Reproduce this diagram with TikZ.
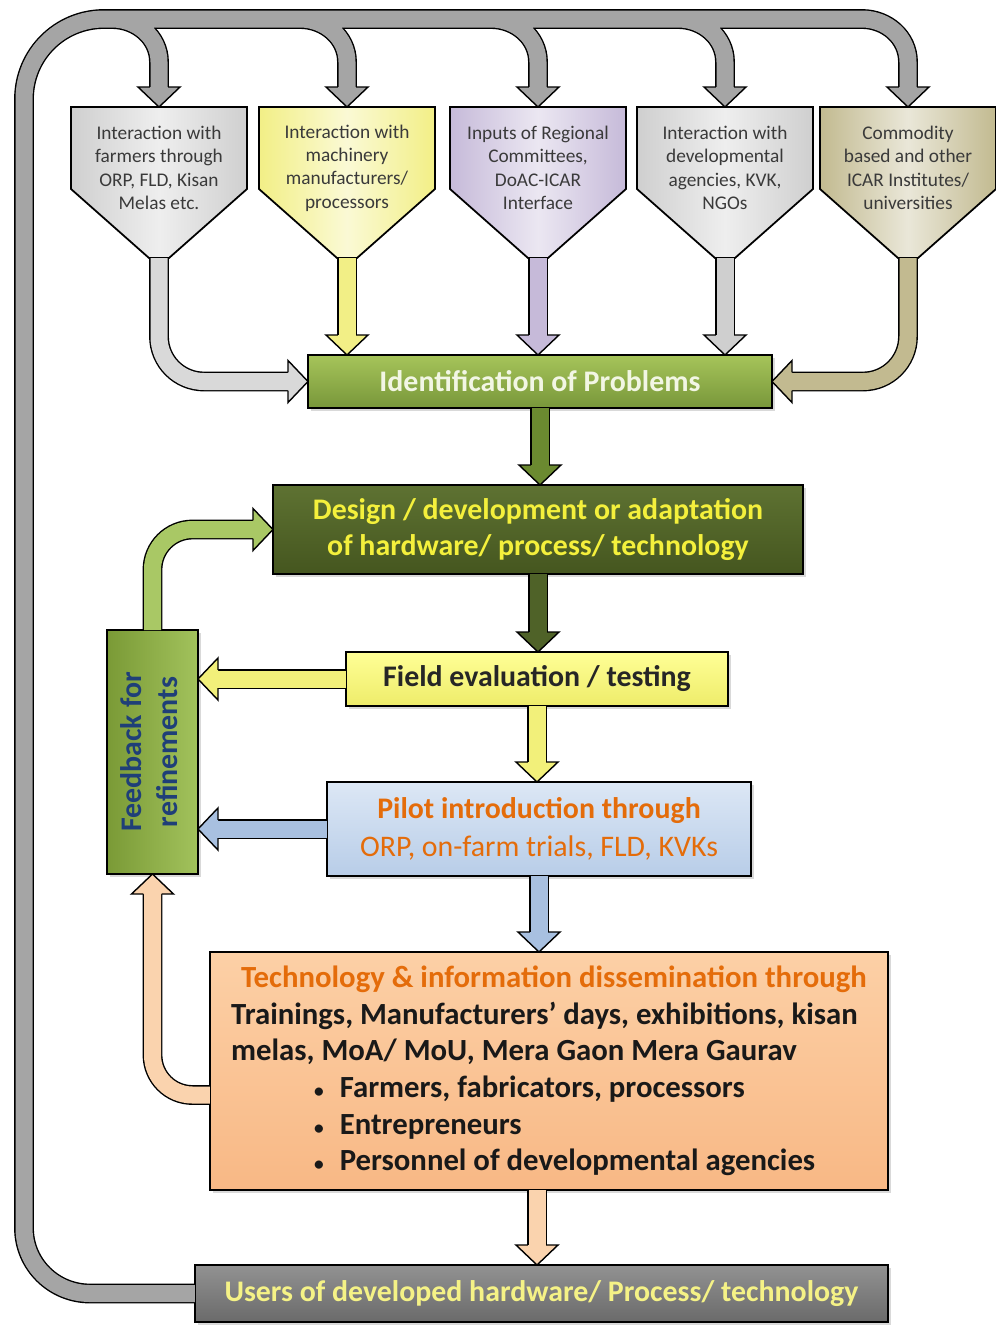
\documentclass[tikz,border=0pt]{standalone}
\usepackage{fontspec}
\setmainfont{Carlito}
\usetikzlibrary{calc}
\usetikzlibrary{shadows}
\definecolor{pipegrey}{HTML}{A5A5A5}
\definecolor{fgrey}{HTML}{CFCFCF}
\definecolor{fyellow}{HTML}{F2EF86}
\definecolor{flav}{HTML}{C6BAD9}
\definecolor{fkhaki}{HTML}{C2BA90}
\definecolor{ftext}{HTML}{3A3A3A}
\definecolor{identtop}{HTML}{A6C45A}
\definecolor{identbot}{HTML}{78973A}
\definecolor{identtxt}{HTML}{F2F6E4}
\definecolor{designtop}{HTML}{5E7232}
\definecolor{designbot}{HTML}{45561F}
\definecolor{designtxt}{HTML}{F4F03C}
\definecolor{fieldtop}{HTML}{FFFF96}
\definecolor{fieldbot}{HTML}{EEEC6A}
\definecolor{pilottop}{HTML}{DCE7F5}
\definecolor{pilotbot}{HTML}{B8CDE8}
\definecolor{orangetxt}{HTML}{E46C0A}
\definecolor{techtop}{HTML}{FCD0A6}
\definecolor{techbot}{HTML}{F8B885}
\definecolor{userstop}{HTML}{929292}
\definecolor{usersbot}{HTML}{6A6A6A}
\definecolor{userstxt}{HTML}{F5F286}
\definecolor{fbtop}{HTML}{A2C25C}
\definecolor{fbbot}{HTML}{7A9A36}
\definecolor{fbtxt}{HTML}{1F3F78}
\definecolor{agreen}{HTML}{6B8A30}
\definecolor{adarkgreen}{HTML}{4F6228}
\definecolor{agreenl}{HTML}{A9C865}
\definecolor{ayellow}{HTML}{F2F07A}
\definecolor{ablue}{HTML}{A8C0E0}
\definecolor{apeach}{HTML}{FAD3AE}
\tikzset{
  box/.style = {draw, line width=1pt, inner sep=0, outer sep=0, align=center,
    font=\bfseries\fontsize{17}{21}\selectfont,
    drop shadow={opacity=0.3, shadow xshift=0.6mm, shadow yshift=-0.6mm}},
  funnel/.style = {draw, line width=1pt},
  funneltext/.style = {align=center, inner sep=0, text=ftext, font=\fontsize{11}{13.3}\selectfont},
  pipe/.style = {draw=black, line width=0.8pt, double=#1, double distance=3.4mm},
  pipe/.default = pipegrey,
  headline/.style = {draw=black, line width=0.8pt},
}
% block arrow heads, tip at #1
\newcommand{\headdown}[2]{\filldraw[headline, fill=#2] (#1) ++(-9.2,-20) -- ++(-11.8,0) -- (#1) -- ++(21,-20) -- ++(-11.8,0);}
\newcommand{\headup}[2]{\filldraw[headline, fill=#2] (#1) ++(-9.2,20) -- ++(-11.8,0) -- (#1) -- ++(21,20) -- ++(-11.8,0);}
\newcommand{\headleft}[2]{\filldraw[headline, fill=#2] (#1) ++(20,-9.2) -- ++(0,-11.8) -- (#1) -- ++(20,21) -- ++(0,-11.8);}
\newcommand{\headright}[2]{\filldraw[headline, fill=#2] (#1) ++(-20,-9.2) -- ++(0,-11.8) -- (#1) -- ++(-20,21) -- ++(0,-11.8);}
\newcommand{\bull}{\hspace*{16.6mm}{\fontsize{11}{11}\selectfont\textbullet}\hspace{3.2mm}}

\begin{document}
\begin{tikzpicture}[x=0.2mm, y=-0.2mm]
\useasboundingbox (0,0) rectangle (996,1326);

% main boxes
\node[box, top color=identtop, bottom color=identbot, text=identtxt,
  minimum width=92.8mm, minimum height=10.6mm] (ident) at (540,381.5) {Identification of Problems};
\node[box, top color=designtop, bottom color=designbot, text=designtxt,
  minimum width=106mm, minimum height=17.8mm] (design) at (538,529.5)
  {Design / development or adaptation\\of hardware/ process/ technology};
\node[box, top color=fieldtop, bottom color=fieldbot, text=black!85,
  minimum width=76.4mm, minimum height=10.8mm] (field) at (537,679) {Field evaluation / testing};
\node[box, top color=pilottop, bottom color=pilotbot, text=orangetxt,
  font=\fontsize{17}{21.5}\selectfont,
  minimum width=84.8mm, minimum height=18.8mm] (pilot) at (539,829)
  {\textbf{Pilot introduction through}\\ORP, on-farm trials, FLD, KVKs};
\node[box, top color=techtop, bottom color=techbot, text=black!90, align=left,
  font=\bfseries\fontsize{17.5}{20.8}\selectfont,
  minimum width=135.6mm, minimum height=47.6mm] (tech) at (549,1071)
  {\hspace*{2mm}\textcolor{orangetxt}{Technology \& information dissemination through}\\
   Trainings, Manufacturers’ days, exhibitions, kisan\\
   melas, MoA/ MoU, Mera Gaon Mera Gaurav\\
   \bull Farmers, fabricators, processors\\
   \bull Entrepreneurs\\
   \bull Personnel of developmental agencies};
\node[box, top color=userstop, bottom color=usersbot, text=userstxt,
  minimum width=138.6mm, minimum height=11.4mm] (users) at (541.5,1293.5)
  {Users of developed hardware/ Process/ technology};
\node[box, left color=fbbot, right color=fbtop, text=fbtxt,
  font=\bfseries\fontsize{17}{20}\selectfont,
  minimum width=18.2mm, minimum height=48.8mm] (fb) at (152.5,752)
  {\rotatebox{90}{\begin{tabular}{@{}c@{}}Feedback for\\refinements\end{tabular}}};

% input funnels
\foreach \cx/\col/\nm/\txt in {
  159/fgrey/f1/{Interaction with\\farmers through\\ORP, FLD, Kisan\\Melas etc.},
  347/fyellow/f2/{Interaction with\\machinery\\manufacturers/\\processors},
  538/flav/f3/{Inputs of Regional\\Committees,\\DoAC-ICAR\\Interface},
  725/fgrey/f4/{Interaction with\\developmental\\agencies, KVK,\\NGOs},
  908/fkhaki/f5/{Commodity\\based and other\\ICAR Institutes/\\universities}}{
  \filldraw[funnel, left color=\col, right color=\col, middle color=\col!35!white]
    (\cx-88,107) -- (\cx+88,107) -- (\cx+88,189) -- (\cx+10,258)
    -- (\cx-10,258) -- (\cx-88,189) -- cycle;
  \node[funneltext] (\nm) at (\cx,168) {\txt};
  \coordinate (\nm t) at (\cx,107);
  \coordinate (\nm n) at (\cx,258);
}

% loop back from the users to the inputs
\draw[pipe] (users.west) -- (90,1293.5) to[out=180,in=-90] (24,1228) -- (24,99)
  to[out=90,in=180] (104,19) -- (862,19) to[out=0,in=90] ($(f5t)+(0,-45)$) -- ($(f5t)+(0,-20)$)
  (112,19) to[out=0,in=90] ($(f1t)+(0,-45)$) -- ($(f1t)+(0,-20)$)
  (300,19) to[out=0,in=90] ($(f2t)+(0,-45)$) -- ($(f2t)+(0,-20)$)
  (491,19) to[out=0,in=90] ($(f3t)+(0,-45)$) -- ($(f3t)+(0,-20)$)
  (678,19) to[out=0,in=90] ($(f4t)+(0,-45)$) -- ($(f4t)+(0,-20)$);
\foreach \nm in {f1,f2,f3,f4,f5}
  \headdown{\nm t}{pipegrey};

% funnels into identification
\draw[pipe=fgrey!80, rounded corners=9mm, shorten >=3.9mm] (f1n) |- (ident.west);
\draw[pipe=fyellow, shorten >=3.9mm] (f2n) -- (f2n |- ident.north);
\draw[pipe=flav, shorten >=3.9mm] (f3n) -- (f3n |- ident.north);
\draw[pipe=fgrey, shorten >=3.9mm] (f4n) -- (f4n |- ident.north);
\draw[pipe=fkhaki, rounded corners=9mm, shorten >=3.9mm] (f5n) |- (ident.east);
\headright{ident.west}{fgrey!80}
\headdown{f2n |- ident.north}{fyellow}
\headdown{f3n |- ident.north}{flav}
\headdown{f4n |- ident.north}{fgrey}
\headleft{ident.east}{fkhaki}

% main flow
\draw[pipe=agreen, shorten >=3.9mm] (ident.south) -- (ident.south |- design.north);
\headdown{ident.south |- design.north}{agreen}
\draw[pipe=adarkgreen, shorten >=3.9mm] (design.south) -- (design.south |- field.north);
\headdown{design.south |- field.north}{adarkgreen}
\draw[pipe=ayellow, shorten >=3.9mm] (field.south) -- (field.south |- pilot.north);
\headdown{field.south |- pilot.north}{ayellow}
\draw[pipe=ablue, shorten >=3.9mm] (pilot.south) -- (pilot.south |- tech.north);
\headdown{pilot.south |- tech.north}{ablue}
\draw[pipe=apeach, shorten >=3.9mm] (tech.south -| field.south) -- (field.south |- users.north);
\headdown{field.south |- users.north}{apeach}

% feedback
\draw[pipe=ayellow, shorten >=3.9mm] (field.west) -- (field.west -| fb.east);
\headleft{field.west -| fb.east}{ayellow}
\draw[pipe=ablue, shorten >=3.9mm] (pilot.west) -- (pilot.west -| fb.east);
\headleft{pilot.west -| fb.east}{ablue}
\draw[pipe=apeach, rounded corners=8mm, shorten >=3.9mm] (tech.west |- 0,1095) -| (fb.south);
\headup{fb.south}{apeach}
\draw[pipe=agreenl, rounded corners=8mm, shorten >=3.9mm] (fb.north) |- (design.west);
\headright{design.west}{agreenl}
\end{tikzpicture}
\end{document}
